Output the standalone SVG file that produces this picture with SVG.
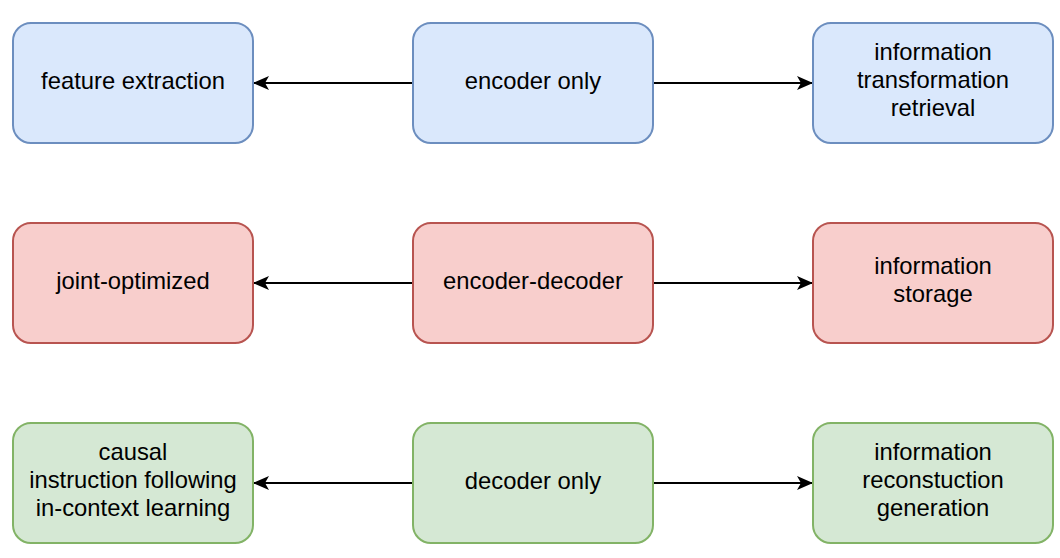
<svg xmlns="http://www.w3.org/2000/svg" width="1060" height="558" viewBox="0 0 1060 558">
<style>
.b{stroke-width:2}
.blue{fill:#dae8fc;stroke:#6c8ebf}
.red{fill:#f8cecc;stroke:#b85450}
.green{fill:#d5e8d4;stroke:#82b366}
text{font-family:"Liberation Sans",Arial,sans-serif;font-size:23.8px;fill:#000;text-anchor:middle}
.c{fill:none;stroke:#000;stroke-width:2}
</style>
<defs>
<marker id="ah" viewBox="0 0 16 14" refX="15" refY="7" markerWidth="16" markerHeight="14" markerUnits="userSpaceOnUse" orient="auto">
<path d="M0,0 L16,7 L0,14 L4,7 Z" fill="#000"/>
</marker>
</defs>
<rect width="1060" height="558" fill="#fff"/>
<g id="connectors">
<path class="c" d="M413,83 H254" marker-end="url(#ah)"/>
<path class="c" d="M653,83 H812" marker-end="url(#ah)"/>
<path class="c" d="M413,283 H254" marker-end="url(#ah)"/>
<path class="c" d="M653,283 H812" marker-end="url(#ah)"/>
<path class="c" d="M413,483 H254" marker-end="url(#ah)"/>
<path class="c" d="M653,483 H812" marker-end="url(#ah)"/>
</g>
<g id="feature-extraction"><rect class="b blue" x="13" y="23" width="240" height="120" rx="18"/><text x="133" y="89">feature extraction</text></g>
<g id="encoder-only"><rect class="b blue" x="413" y="23" width="240" height="120" rx="18"/><text x="533" y="89">encoder only</text></g>
<g id="info-retrieval"><rect class="b blue" x="813" y="23" width="240" height="120" rx="18"/><text x="933" y="60">information</text><text x="933" y="88">transformation</text><text x="933" y="116">retrieval</text></g>
<g id="joint-optimized"><rect class="b red" x="13" y="223" width="240" height="120" rx="18"/><text x="133" y="289">joint-optimized</text></g>
<g id="encoder-decoder"><rect class="b red" x="413" y="223" width="240" height="120" rx="18"/><text x="533" y="289">encoder-decoder</text></g>
<g id="info-storage"><rect class="b red" x="813" y="223" width="240" height="120" rx="18"/><text x="933" y="274">information</text><text x="933" y="302">storage</text></g>
<g id="causal"><rect class="b green" x="13" y="423" width="240" height="120" rx="18"/><text x="133" y="460">causal</text><text x="133" y="488">instruction following</text><text x="133" y="516">in-context learning</text></g>
<g id="decoder-only"><rect class="b green" x="413" y="423" width="240" height="120" rx="18"/><text x="533" y="489">decoder only</text></g>
<g id="info-generation"><rect class="b green" x="813" y="423" width="240" height="120" rx="18"/><text x="933" y="460">information</text><text x="933" y="488">reconstuction</text><text x="933" y="516">generation</text></g>
</svg>
